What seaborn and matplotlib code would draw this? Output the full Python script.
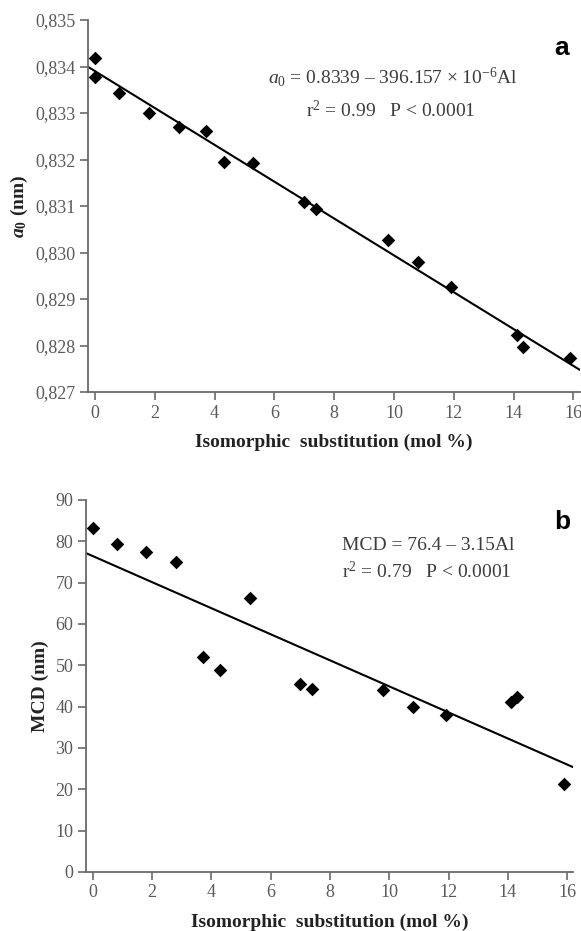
import numpy as np
import pandas as pd
import seaborn as sns
import matplotlib
matplotlib.use("Agg")
import matplotlib.pyplot as plt
from matplotlib.ticker import FuncFormatter, MultipleLocator

# Lattice parameter vs. Al substitution
al_a = [0.0, 0.0, 0.8, 1.8, 2.8, 3.7, 4.3, 5.3, 7.0, 7.4, 9.8, 10.8, 11.9, 14.1, 14.3, 15.9]
a0_nm = [0.83418, 0.83377, 0.83343, 0.83300, 0.83270, 0.83261, 0.83195, 0.83192,
         0.83109, 0.83094, 0.83027, 0.82980, 0.82926, 0.82823, 0.82797, 0.82773]

# Mean crystallite diameter vs. Al substitution
al_b = [0.0, 0.8, 1.8, 2.8, 3.7, 4.3, 5.3, 7.0, 7.4, 9.8, 10.8, 11.9, 14.1, 14.3, 15.9]
mcd_nm = [83.3, 79.4, 77.5, 75.1, 52.0, 48.9, 66.3, 45.5, 44.3, 44.0, 40.0, 38.0, 41.2, 42.3, 21.3]

# Regression coefficients (intercept, slope)
fit_a = (0.8339, -396.157e-6)
fit_b = (76.4, -3.15)

x_ticks = [0, 2, 4, 6, 8, 10, 12, 14, 16]
xlim_a = (-0.234, 16.22)
xlim_b = (-0.236, 16.2)

sns.set_theme(style="white")
plt.rcParams["font.family"] = ["Liberation Serif", "DejaVu Serif"]
plt.rcParams["mathtext.fontset"] = "custom"
plt.rcParams["mathtext.rm"] = "Liberation Serif"
plt.rcParams["mathtext.it"] = "Liberation Serif:italic"
plt.rcParams["mathtext.bf"] = "Liberation Serif:bold"
plt.rcParams["mathtext.bfit"] = "Liberation Serif:italic:bold"

axis_grey = "#6a6a6a"
tick_grey = "#5a5a5a"
text_grey = "#3c3c3c"

fig = plt.figure(figsize=(5.81, 9.31), dpi=100)
ax_a = fig.add_axes([0.1515, 0.5789, 0.8468, 0.3996])
ax_b = fig.add_axes([0.1480, 0.0634, 0.8382, 0.3996])

def style_axis(ax, xlim, ylim):
    ax.set_xlim(*xlim)
    ax.set_ylim(*ylim)
    for side in ("top", "right"):
        ax.spines[side].set_visible(False)
    for side in ("left", "bottom"):
        ax.spines[side].set_color(axis_grey)
        ax.spines[side].set_linewidth(1.3)
    ax.set_xticks(x_ticks)
    ax.tick_params(axis="both", direction="out", length=6, width=1.2,
                   color=axis_grey, labelcolor=tick_grey, labelsize=13, pad=3,
                   left=True, bottom=True)
    ax.set_xlabel("Isomorphic  substitution (mol %)", fontsize=14, fontweight="bold",
                  color="#222222", labelpad=9)

# Panel a
df_a = pd.DataFrame({"Al": al_a, "a0": a0_nm})
line_x = np.array(xlim_a)
df_fit_a = pd.DataFrame({"Al": line_x, "a0": fit_a[0] + fit_a[1] * line_x})
sns.lineplot(data=df_fit_a, x="Al", y="a0", ax=ax_a, color="black", linewidth=1.5)
sns.scatterplot(data=df_a, x="Al", y="a0", ax=ax_a, marker="D", s=48,
                color="black", edgecolor="black", linewidth=0, zorder=3)
style_axis(ax_a, xlim_a, (0.827, 0.835))
ax_a.yaxis.set_major_locator(MultipleLocator(0.001))
ax_a.yaxis.set_major_formatter(FuncFormatter(lambda v, _: f"{v:.3f}".replace(".", ",")))
ax_a.set_ylabel(r"$\mathbfit{a}_{\mathbf{0}}$ (nm)", fontsize=14, fontweight="bold",
                color="#222222", labelpad=4)
ax_a.text(9.95, 0.83377, r"$a_0$ = 0.8339 – 396.157 × 10$^{-6}$Al", fontsize=14,
          color=text_grey, ha="center", va="center")
ax_a.text(9.9, 0.83305, r"r$^2$ = 0.99   P < 0.0001", fontsize=14,
          color=text_grey, ha="center", va="center")
ax_a.text(0.962, 0.925, "a", transform=ax_a.transAxes, fontsize=19, fontweight="bold",
          family="Liberation Sans", color="black", ha="center", va="center")

# Panel b
df_b = pd.DataFrame({"Al": al_b, "MCD": mcd_nm})
line_xb = np.array(xlim_b)
df_fit_b = pd.DataFrame({"Al": line_xb, "MCD": fit_b[0] + fit_b[1] * line_xb})
sns.lineplot(data=df_fit_b, x="Al", y="MCD", ax=ax_b, color="black", linewidth=1.5)
sns.scatterplot(data=df_b, x="Al", y="MCD", ax=ax_b, marker="D", s=48,
                color="black", edgecolor="black", linewidth=0, zorder=3)
style_axis(ax_b, xlim_b, (0, 90))
ax_b.yaxis.set_major_locator(MultipleLocator(10))
ax_b.set_ylabel("MCD (nm)", fontsize=14, fontweight="bold", color="#222222", labelpad=5)
ax_b.text(8.4, 78.9, "MCD = 76.4 – 3.15Al", fontsize=14, color=text_grey,
          ha="left", va="center")
ax_b.text(8.4, 72.6, r"r$^2$ = 0.79   P < 0.0001", fontsize=14, color=text_grey,
          ha="left", va="center")
ax_b.text(0.978, 0.94, "b", transform=ax_b.transAxes, fontsize=19, fontweight="bold",
          family="Liberation Sans", color="black", ha="center", va="center")

fig.savefig("out.png", dpi=100)
